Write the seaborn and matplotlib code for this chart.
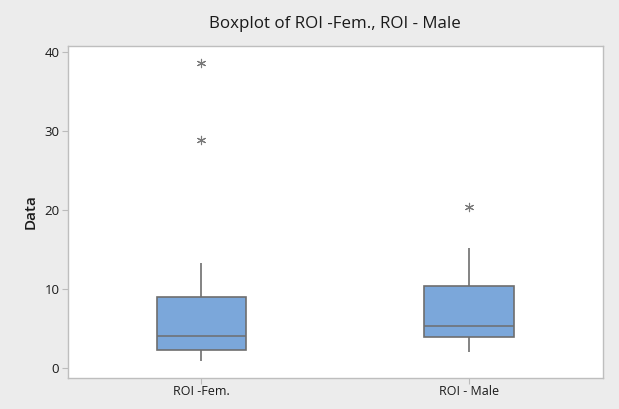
import matplotlib
matplotlib.use("Agg")
import matplotlib.pyplot as plt
import seaborn as sns
import pandas as pd

# Values (Minitab style boxplot)
categories = ["ROI -Fem.", "ROI - Male"]
whisker_low = [0.89, 2.03]
q1 = [2.21, 3.86]
median = [3.99, 5.30]
q3 = [8.94, 10.37]
whisker_high = [13.26, 15.16]
outlier_groups = ["ROI -Fem.", "ROI -Fem.", "ROI - Male"]
outlier_values = [38.6, 28.9, 20.4]
y_ticks = [0, 10, 20, 30, 40]

sns.set_theme(style="white")
plt.rcParams["font.family"] = ["Open Sans", "DejaVu Sans"]

# five-number summaries as small samples (n=5 -> quartiles exact)
rows = []
for i, c in enumerate(categories):
    for v in (whisker_low[i], q1[i], median[i], q3[i], whisker_high[i]):
        rows.append({"group": c, "value": v})
box_df = pd.DataFrame(rows)
out_df = pd.DataFrame({"group": outlier_groups, "value": outlier_values})

fig = plt.figure(figsize=(6.19, 4.09), dpi=100, facecolor="#ECECEC")
ax = fig.add_axes([67.7 / 619, 1 - 377.7 / 409, (602.7 - 67.7) / 619, (377.7 - 46) / 409])
ax.set_facecolor("white")

edge = "#6E6E6E"
sns.boxplot(data=box_df, x="group", y="value", order=categories, ax=ax,
            width=0.335, color="#7BA7DA", saturation=1, showfliers=False,
            linewidth=1.2,
            boxprops=dict(edgecolor=edge, facecolor="#7BA7DA"),
            whiskerprops=dict(color=edge), capprops=dict(color=edge, linewidth=0),
            medianprops=dict(color=edge, linewidth=1.1))
sns.stripplot(data=out_df, x="group", y="value", order=categories, ax=ax,
              jitter=False, marker=(6, 2, 0), size=6, color="#7A7A7A",
              linewidth=0.8, edgecolor="#7A7A7A")

ax.set_xlim(-0.5, 1.5)
ax.set_ylim(-1.27, 40.76)
ax.set_yticks(y_ticks)
ax.set_xlabel("")
ax.set_ylabel("Data", fontsize=11, fontweight="semibold", color="#1A1A1A", labelpad=5)
ax.set_title("Boxplot of ROI -Fem., ROI - Male", fontsize=12.2, color="#1A1A1A", pad=13)
ax.tick_params(axis="both", which="both", length=4, color="#BBBBBB", width=0.8,
               labelsize=9.5, labelcolor="#1A1A1A", bottom=True, left=True, pad=2)
ax.tick_params(axis="x", labelsize=9, pad=1)
for s in ax.spines.values():
    s.set_color("#BEBEBE")
    s.set_linewidth(1.0)

fig.savefig("out.png", dpi=100, facecolor=fig.get_facecolor())
